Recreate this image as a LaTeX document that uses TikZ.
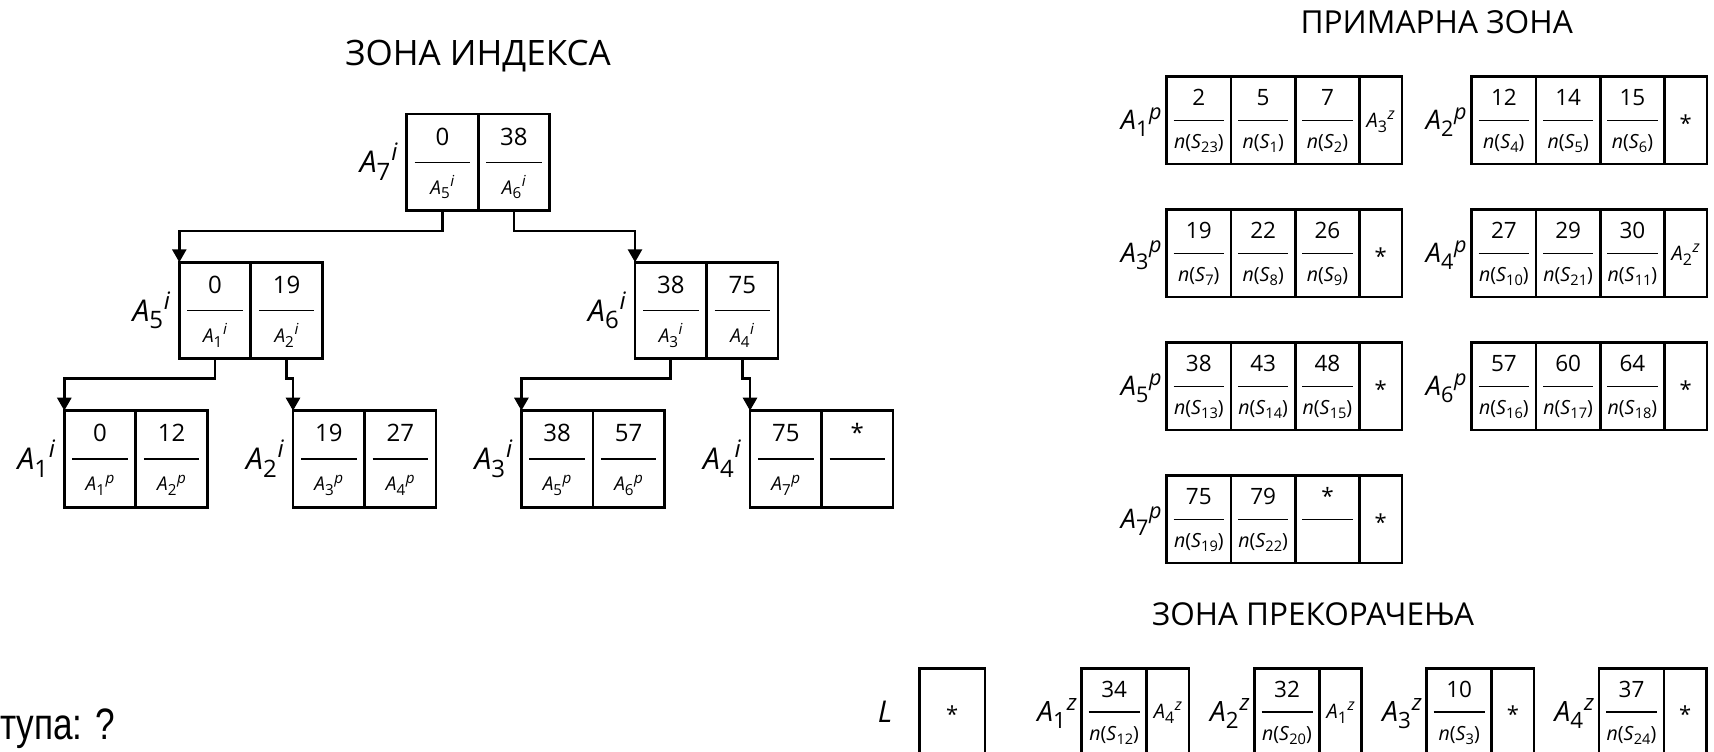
\documentclass[tikz,border=0pt]{standalone}
\usepackage{fontspec}
\setmainfont{Open Sans}
\newfontfamily\notefont[FakeStretch=0.8]{Liberation Sans}
\usetikzlibrary{arrows.meta,calc}

% block reference: italic letter, subscript index, italic superscript zone tag
\newcommand\ix[3]{\textit{#1}\raisebox{-0.25em}{\scalebox{0.8}{#2}}\hspace{0.03em}\raisebox{0.4em}{\scalebox{0.8}{\textit{#3}}}}
% record address n(S_k)
\newcommand\nS[1]{\textit{n}(\textit{S}\raisebox{-0.22em}{\scalebox{0.75}{#1}})}
\newcommand\fs[1]{\fontsize{#1}{#1}\selectfont}

\tikzset{
  box/.style={draw, line width=2.7pt, inner sep=0pt, outer sep=0pt},
  icell/.style={box, minimum width=71.5pt, minimum height=96.5pt},
  pcell/.style={box, minimum width=64.3pt, minimum height=87.3pt},
  zcell/.style={box, minimum width=65pt, minimum height=87.3pt},
  ecell/.style={box, minimum width=42.3pt, minimum height=87.3pt},
  lcell/.style={box, minimum width=65.7pt, minimum height=87.3pt},
  frac/.style={line width=1.3pt},
  conn/.style={line width=2.7pt, -{Triangle[width=14pt,length=13pt]}},
  txt/.style={inner sep=0pt, outer sep=0pt},
  inum/.style={txt, font=\fs{24}},
  iden/.style={txt, font=\fs{19}},
  pnum/.style={txt, font=\fs{22.5}},
  pden/.style={txt, font=\fs{19.5}},
  ilab/.style={txt, font=\fs{30}},
  plab/.style={txt, font=\fs{27}},
  zlab/.style={txt, font=\fs{28}},
}

% index cell: name, x, y, key, pointer
\newcommand\icell[5]{%
  \node[icell, anchor=north west] (#1) at (#2,#3) {};
  \node[inum, anchor=base] (#1-n) at ($(#1.north)+(0,31)$) {#4};
  \draw[frac] ($(#1.west)+(8,0)$) -- ($(#1.east)+(-8,0)$);
  \node[iden, anchor=base] (#1-d) at ($(#1.south)+(0,-16.5)$) {#5};}
% data cell: name, style, x, y, key, address
\newcommand\pcell[6]{%
  \node[#2, anchor=north west] (#1) at (#3,#4) {};
  \node[pnum, anchor=base] (#1-n) at ($(#1.north)+(0,29)$) {#5};
  \draw[frac] ($(#1.west)+(7,0)$) -- ($(#1.east)+(-7,0)$);
  \node[pden, anchor=base] (#1-d) at ($(#1.south)+(0,-15.5)$) {#6};}
% link cell: name, style, x, y, content, baseline offset
\newcommand\ecell[6]{%
  \node[#2, anchor=north west] (#1) at (#3,#4) {};
  \node[txt, anchor=base] (#1-t) at ($(#1.center)+(0,#6)$) {#5};}
\newcommand\st{\fs{22}*}
\newcommand\zref[2]{\fs{20}\ix{A}{#1}{#2}}

\begin{document}
\begin{tikzpicture}[x=1pt, y=-1pt]
\useasboundingbox (0,0) rectangle (1714,752);
\clip (0,0) rectangle (1714,752);

% ---------- index zone ----------
\node[txt, font=\fs{35}, anchor=base] (t-index) at (478,65.5) {ЗОНА ИНДЕКСА};

\icell{a7a}{406.7}{114}{0}{\ix{A}{5}{i}}
\icell{a7b}{478.2}{114}{38}{\ix{A}{6}{i}}
\node[ilab, anchor=base east] (a7) at ($(a7a.west)+(-9,10.7)$) {\ix{A}{7}{i}};

\icell{a5a}{179.3}{262.3}{0}{\ix{A}{1}{i}}
\icell{a5b}{250.8}{262.3}{19}{\ix{A}{2}{i}}
\node[ilab, anchor=base east] (a5) at ($(a5a.west)+(-9,10.7)$) {\ix{A}{5}{i}};

\icell{a6a}{635}{262.3}{38}{\ix{A}{3}{i}}
\icell{a6b}{706.5}{262.3}{75}{\ix{A}{4}{i}}
\node[ilab, anchor=base east] (a6) at ($(a6a.west)+(-9,10.7)$) {\ix{A}{6}{i}};

\icell{a1a}{64.3}{410.7}{0}{\ix{A}{1}{p}}
\icell{a1b}{135.8}{410.7}{12}{\ix{A}{2}{p}}
\node[ilab, anchor=base east] (a1) at ($(a1a.west)+(-9,10.7)$) {\ix{A}{1}{i}};

\icell{a2a}{293}{410.7}{19}{\ix{A}{3}{p}}
\icell{a2b}{364.5}{410.7}{27}{\ix{A}{4}{p}}
\node[ilab, anchor=base east] (a2) at ($(a2a.west)+(-9,10.7)$) {\ix{A}{2}{i}};

\icell{a3a}{521.4}{410.7}{38}{\ix{A}{5}{p}}
\icell{a3b}{592.9}{410.7}{57}{\ix{A}{6}{p}}
\node[ilab, anchor=base east] (a3) at ($(a3a.west)+(-9,10.7)$) {\ix{A}{3}{i}};

\icell{a4a}{750}{410.7}{75}{\ix{A}{7}{p}}
\icell{a4b}{821.5}{410.7}{*}{}
\node[ilab, anchor=base east] (a4) at ($(a4a.west)+(-9,10.7)$) {\ix{A}{4}{i}};

\draw[conn] (a7a.south) -- ++(0,20.5) -| (a5a.north west);
\draw[conn] (a7b.south) -- ++(0,20.5) -| (a6a.north west);
\draw[conn] (a5a.south) -- ++(0,20) -| (a1a.north west);
\draw[conn] (a5b.south) -- ++(0,20) -| (a2a.north west);
\draw[conn] (a6a.south) -- ++(0,20) -| (a3a.north west);
\draw[conn] (a6b.south) -- ++(0,20) -| (a4a.north west);

% ---------- primary zone ----------
\node[txt, font=\fs{31.7}, anchor=base] (t-prim) at (1436.7,33.2) {ПРИМАРНА ЗОНА};

\pcell{p1a}{pcell}{1166.7}{76.7}{2}{\nS{23}}
\pcell{p1b}{pcell}{1231}{76.7}{5}{\nS{1}}
\pcell{p1c}{pcell}{1295.3}{76.7}{7}{\nS{2}}
\ecell{p1d}{ecell}{1359.6}{76.7}{\zref{3}{z}}{7}
\node[plab, anchor=base east] (p1) at ($(p1a.west)+(-5,9.6)$) {\ix{A}{1}{p}};

\pcell{p2a}{pcell}{1471.7}{76.7}{12}{\nS{4}}
\pcell{p2b}{pcell}{1536}{76.7}{14}{\nS{5}}
\pcell{p2c}{pcell}{1600.3}{76.7}{15}{\nS{6}}
\ecell{p2d}{ecell}{1664.6}{76.7}{\st}{11}
\node[plab, anchor=base east] (p2) at ($(p2a.west)+(-5,9.6)$) {\ix{A}{2}{p}};

\pcell{p3a}{pcell}{1166.7}{209.7}{19}{\nS{7}}
\pcell{p3b}{pcell}{1231}{209.7}{22}{\nS{8}}
\pcell{p3c}{pcell}{1295.3}{209.7}{26}{\nS{9}}
\ecell{p3d}{ecell}{1359.6}{209.7}{\st}{11}
\node[plab, anchor=base east] (p3) at ($(p3a.west)+(-5,9.6)$) {\ix{A}{3}{p}};

\pcell{p4a}{pcell}{1471.7}{209.7}{27}{\nS{10}}
\pcell{p4b}{pcell}{1536}{209.7}{29}{\nS{21}}
\pcell{p4c}{pcell}{1600.3}{209.7}{30}{\nS{11}}
\ecell{p4d}{ecell}{1664.6}{209.7}{\zref{2}{z}}{7}
\node[plab, anchor=base east] (p4) at ($(p4a.west)+(-5,9.6)$) {\ix{A}{4}{p}};

\pcell{p5a}{pcell}{1166.7}{342.7}{38}{\nS{13}}
\pcell{p5b}{pcell}{1231}{342.7}{43}{\nS{14}}
\pcell{p5c}{pcell}{1295.3}{342.7}{48}{\nS{15}}
\ecell{p5d}{ecell}{1359.6}{342.7}{\st}{11}
\node[plab, anchor=base east] (p5) at ($(p5a.west)+(-5,9.6)$) {\ix{A}{5}{p}};

\pcell{p6a}{pcell}{1471.7}{342.7}{57}{\nS{16}}
\pcell{p6b}{pcell}{1536}{342.7}{60}{\nS{17}}
\pcell{p6c}{pcell}{1600.3}{342.7}{64}{\nS{18}}
\ecell{p6d}{ecell}{1664.6}{342.7}{\st}{11}
\node[plab, anchor=base east] (p6) at ($(p6a.west)+(-5,9.6)$) {\ix{A}{6}{p}};

\pcell{p7a}{pcell}{1166.7}{475.7}{75}{\nS{19}}
\pcell{p7b}{pcell}{1231}{475.7}{79}{\nS{22}}
\pcell{p7c}{pcell}{1295.3}{475.7}{*}{}
\ecell{p7d}{ecell}{1359.6}{475.7}{\st}{11}
\node[plab, anchor=base east] (p7) at ($(p7a.west)+(-5,9.6)$) {\ix{A}{7}{p}};

% ---------- overflow zone ----------
\node[txt, font=\fs{31.5}, anchor=base] (t-over) at (1313,625.5) {ЗОНА ПРЕКОРАЧЕЊА};

\ecell{lbox}{lcell}{919.3}{668.3}{\st}{11}
\node[txt, font=\fs{30}\itshape, anchor=base east] (L) at ($(lbox.west)+(-27,10.5)$) {L};

\pcell{z1a}{zcell}{1081.7}{668.3}{34}{\nS{12}}
\ecell{z1b}{ecell}{1146.7}{668.3}{\zref{4}{z}}{7}
\node[zlab, anchor=base east] (z1) at ($(z1a.west)+(-5,10)$) {\ix{A}{1}{z}};

\pcell{z2a}{zcell}{1254.5}{668.3}{32}{\nS{20}}
\ecell{z2b}{ecell}{1319.5}{668.3}{\zref{1}{z}}{7}
\node[zlab, anchor=base east] (z2) at ($(z2a.west)+(-5,10)$) {\ix{A}{2}{z}};

\pcell{z3a}{zcell}{1426.7}{668.3}{10}{\nS{3}}
\ecell{z3b}{ecell}{1491.7}{668.3}{\st}{11}
\node[zlab, anchor=base east] (z3) at ($(z3a.west)+(-5,10)$) {\ix{A}{3}{z}};

\pcell{z4a}{zcell}{1599}{668.3}{37}{\nS{24}}
\ecell{z4b}{ecell}{1664}{668.3}{\st}{11}
\node[zlab, anchor=base east] (z4) at ($(z4a.west)+(-5,10)$) {\ix{A}{4}{z}};

% access count note
\node[txt, font={\notefont\fs{44}}, anchor=base west] (note) at (0,739) {тупа: ?};
\end{tikzpicture}
\end{document}
